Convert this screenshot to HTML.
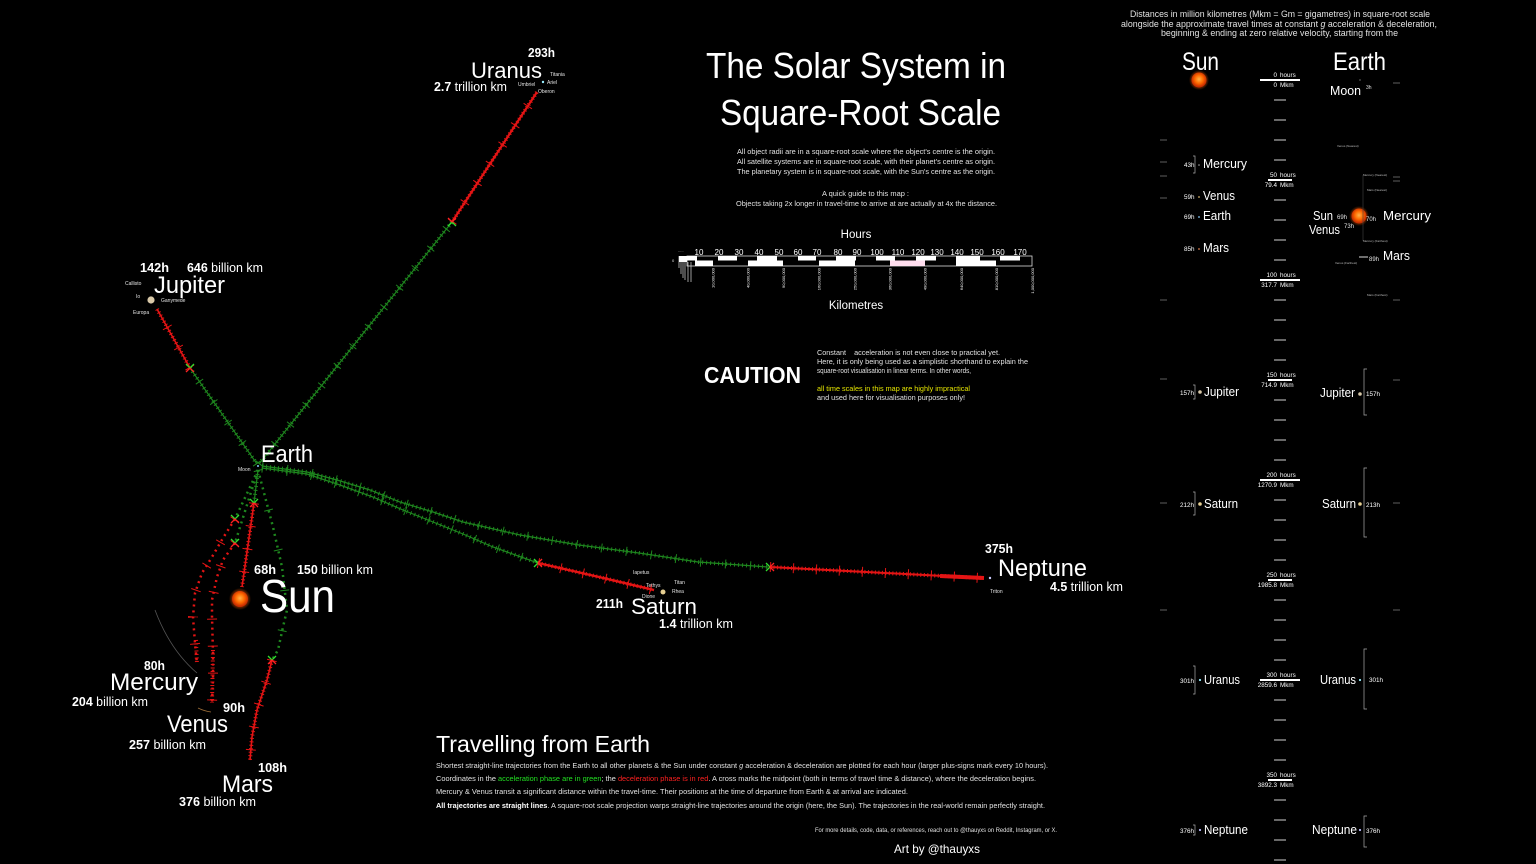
<!DOCTYPE html>
<html><head><meta charset="utf-8">
<style>
html,body{margin:0;padding:0;background:#000;}
svg{display:block;}
text{font-family:"Liberation Sans",sans-serif;fill:#fff;}
.d{fill:#e2e2e2;}
.b{font-weight:bold;}
.g1{stroke:#1e861e;stroke-width:1.2;fill:none;}
.g2{stroke:#1e861e;stroke-width:4;stroke-dasharray:1 3;fill:none;}
.g3{stroke:#1e861e;stroke-width:9;stroke-dasharray:1 24;fill:none;}
.gd{stroke:#1e861e;stroke-width:2.5;stroke-dasharray:2 4;fill:none;}
.r1{stroke:#e41414;stroke-width:1.6;fill:none;}
.r2{stroke:#e41414;stroke-width:4;stroke-dasharray:1 2.5;fill:none;}
.r3{stroke:#e41414;stroke-width:10;stroke-dasharray:1 22;fill:none;}
.rd{stroke:#e41414;stroke-width:2.5;stroke-dasharray:2 4;fill:none;}
.xg{stroke:#2ee02e;stroke-width:1.3;fill:none;}
.xr{stroke:#ff2222;stroke-width:1.3;fill:none;}
.t{stroke:#cfcfcf;stroke-width:1;}
.tl{stroke:#fff;stroke-width:2;}
.br{stroke:#aaa;stroke-width:0.7;fill:none;}
.tiny{font-size:3px;fill:#bbb;}
</style></head><body>
<svg width="1536" height="864" viewBox="0 0 1536 864" xmlns="http://www.w3.org/2000/svg">
<defs>
<radialGradient id="sun" cx="50%" cy="45%" r="50%">
<stop offset="0" stop-color="#ffb347"/>
<stop offset="0.55" stop-color="#ff6a00"/>
<stop offset="1" stop-color="#c82c00"/>
</radialGradient>
<radialGradient id="glow" cx="50%" cy="50%" r="50%">
<stop offset="0.6" stop-color="#ff5a00" stop-opacity="0.6"/>
<stop offset="1" stop-color="#ff5a00" stop-opacity="0"/>
</radialGradient>
</defs>
<rect width="1536" height="864" fill="#000"/>

<!-- ================= TRAJECTORIES ================= -->
<!-- Jupiter -->
<path class="g1" d="M257,464 L190,368"/><path class="g2" d="M257,464 L190,368"/><path class="g3" d="M257,464 L190,368"/>
<path class="r1" d="M190,368 L157,309"/><path class="r2" d="M190,368 L157,309"/><path class="r3" d="M190,368 L157,309"/>
<!-- Uranus -->
<path class="g1" d="M259,464 L452,222"/><path class="g2" d="M259,464 L452,222"/><path class="g3" d="M259,464 L452,222"/>
<path class="r1" d="M452,222 L537,92" style="stroke-width:2.2"/><path class="r2" d="M452,222 L537,92"/><path class="r3" d="M452,222 L537,92"/>
<!-- Saturn -->
<path class="g1" d="M262,468 L307,474 L340,485 L373,497 L403,510 L433,522 L463,534 L493,547 L538,563"/>
<path class="g2" d="M262,468 L307,474 L340,485 L373,497 L403,510 L433,522 L463,534 L493,547 L538,563"/>
<path class="g3" d="M262,468 L307,474 L340,485 L373,497 L403,510 L433,522 L463,534 L493,547 L538,563"/>
<path class="r1" d="M538,563 L599,577 L654,590" style="stroke-width:2.4"/><path class="r2" d="M538,563 L599,577 L654,590"/><path class="r3" d="M538,563 L599,577 L654,590"/>
<!-- Neptune -->
<path class="g1" d="M262,466 L307,472 L337,480 L370,490 L400,502 L433,512 L463,522 L520,535 L579,545 L639,553 L698,562 L768,567"/>
<path class="g2" d="M262,466 L307,472 L337,480 L370,490 L400,502 L433,512 L463,522 L520,535 L579,545 L639,553 L698,562 L768,567"/>
<path class="g3" d="M262,466 L307,472 L337,480 L370,490 L400,502 L433,512 L463,522 L520,535 L579,545 L639,553 L698,562 L768,567"/>
<path class="r1" d="M770,567 L982,578" style="stroke-width:2"/><path class="r2" d="M770,567 L982,578"/><path class="r3" d="M770,567 L982,578"/>
<path d="M940,576 L984,578" stroke="#e41414" stroke-width="4" fill="none"/>
<!-- Sun -->
<path class="g1" d="M258,470 L254,503"/><path class="g2" d="M258,470 L254,503"/>
<path class="r1" d="M254,503 L242,587"/><path class="r2" d="M254,503 L242,587"/><path class="r3" d="M254,503 L242,587"/>
<!-- Mercury -->
<path class="gd" d="M258,470 L235,519"/>
<path class="rd" d="M235,519 L223,538 L212,557 L202,573 L195,593 L193,617 L195,643 L197,664"/>
<path class="r3" d="M235,519 L223,538 L212,557 L202,573 L195,593 L193,617 L195,643 L197,664" style="stroke-dasharray:1 26"/>
<path class="r2" d="M196,640 L197,664"/>
<!-- Venus -->
<path class="gd" d="M258,470 L235,543"/>
<path class="rd" d="M235,543 L223,560 L217,577 L212,600 L212,617 L213,653 L213,677 L212,703"/>
<path class="r3" d="M235,543 L223,560 L217,577 L212,600 L212,617 L213,653 L213,677 L212,703" style="stroke-dasharray:1 26"/>
<path class="r2" d="M213,650 L212,703"/>
<!-- Mars -->
<path class="gd" d="M258,470 L273,527 L282,567 L287,610 L283,627 L278,650 L272,660"/>
<path class="g3" d="M258,470 L273,527 L282,567 L287,610 L283,627 L278,650 L272,660" style="stroke-dasharray:1 40"/>
<path class="r1" d="M272,660 L267,680 L257,710 L252,737 L250,760"/><path class="r2" d="M272,660 L267,680 L257,710 L252,737 L250,760"/><path class="r3" d="M272,660 L267,680 L257,710 L252,737 L250,760"/>

<!-- midpoint crosses -->
<g>
<path class="xg" d="M186,364 L190,368 L194,364"/><path class="xr" d="M186,372 L190,368 L194,372"/>
<path class="xg" d="M448,226 L452,222 L456,226"/><path class="xr" d="M448,218 L452,222 L456,218"/>
<path class="xg" d="M534,559 L538,563 L534,567"/><path class="xr" d="M542,559 L538,563 L542,567"/>
<path class="xg" d="M766,563 L770,567 L766,571"/><path class="xr" d="M774,563 L770,567 L774,571"/>
<path class="xg" d="M250,499 L254,503 L258,499"/><path class="xr" d="M250,507 L254,503 L258,507"/>
<path class="xg" d="M231,515 L235,519 L239,515"/><path class="xr" d="M231,523 L235,519 L239,523"/>
<path class="xg" d="M231,539 L235,543 L239,539"/><path class="xr" d="M231,547 L235,543 L239,547"/>
<path class="xg" d="M268,656 L272,660 L276,656"/><path class="xr" d="M268,664 L272,660 L276,664"/>
</g>

<!-- faint orbit arcs -->
<path d="M155,610 Q170,650 197,673" stroke="#555" stroke-width="0.8" fill="none"/>
<path d="M198,708 Q204,711 211,712" stroke="#a0703a" stroke-width="0.8" fill="none"/>

<!-- ================= MAP OBJECTS & LABELS ================= -->
<!-- Earth -->
<circle cx="258" cy="466" r="1" fill="#8cf"/>
<text x="261" y="462" font-size="24" textLength="52" lengthAdjust="spacingAndGlyphs">Earth</text>
<text x="238" y="471" font-size="5" class="d">Moon</text>
<!-- Jupiter -->
<circle cx="151" cy="300" r="3.6" fill="#d8c8a8"/>
<text x="140" y="272" font-size="12.5" class="b" textLength="29" lengthAdjust="spacingAndGlyphs">142h</text>
<text x="187" y="272" font-size="12.5" textLength="76" lengthAdjust="spacingAndGlyphs"><tspan class="b">646</tspan> billion km</text>
<text x="154" y="293" font-size="24" textLength="71" lengthAdjust="spacingAndGlyphs">Jupiter</text>
<text x="125" y="285" font-size="5" class="d">Callisto</text>
<text x="136" y="298" font-size="5" class="d">Io</text>
<text x="161" y="302" font-size="5" class="d">Ganymede</text>
<text x="133" y="314" font-size="5" class="d">Europa</text>
<!-- Uranus -->
<circle cx="543" cy="82" r="1.2" fill="#9ef"/>
<text x="528" y="57" font-size="12.5" class="b" textLength="27" lengthAdjust="spacingAndGlyphs">293h</text>
<text x="471" y="78" font-size="22" textLength="71" lengthAdjust="spacingAndGlyphs">Uranus</text>
<text x="434" y="91" font-size="12.5" textLength="73" lengthAdjust="spacingAndGlyphs"><tspan class="b">2.7</tspan> trillion km</text>
<text x="550" y="76" font-size="5" class="d">Titania</text>
<text x="518" y="86" font-size="5" class="d">Umbriel</text>
<text x="547" y="84" font-size="5" class="d">Ariel</text>
<text x="538" y="93" font-size="5" class="d">Oberon</text>
<!-- Sun -->
<circle cx="240" cy="599" r="11" fill="url(#glow)"/>
<circle cx="240" cy="599" r="8" fill="url(#sun)"/>
<text x="254" y="574" font-size="12.5" class="b" textLength="22" lengthAdjust="spacingAndGlyphs">68h</text>
<text x="297" y="574" font-size="12.5" textLength="76" lengthAdjust="spacingAndGlyphs"><tspan class="b">150</tspan> billion km</text>
<text x="260" y="612" font-size="46" textLength="75" lengthAdjust="spacingAndGlyphs">Sun</text>
<!-- Mercury -->
<text x="144" y="670" font-size="12.5" class="b" textLength="21" lengthAdjust="spacingAndGlyphs">80h</text>
<text x="110" y="690" font-size="24" textLength="88" lengthAdjust="spacingAndGlyphs">Mercury</text>
<text x="72" y="706" font-size="12.5" textLength="76" lengthAdjust="spacingAndGlyphs"><tspan class="b">204</tspan> billion km</text>
<!-- Venus -->
<text x="223" y="712" font-size="12.5" class="b" textLength="22" lengthAdjust="spacingAndGlyphs">90h</text>
<text x="167" y="732" font-size="24" textLength="61" lengthAdjust="spacingAndGlyphs">Venus</text>
<text x="129" y="749" font-size="12.5" textLength="77" lengthAdjust="spacingAndGlyphs"><tspan class="b">257</tspan> billion km</text>
<!-- Mars -->
<text x="258" y="772" font-size="12.5" class="b" textLength="29" lengthAdjust="spacingAndGlyphs">108h</text>
<text x="222" y="792" font-size="24" textLength="51" lengthAdjust="spacingAndGlyphs">Mars</text>
<text x="179" y="806" font-size="12.5" textLength="77" lengthAdjust="spacingAndGlyphs"><tspan class="b">376</tspan> billion km</text>
<!-- Saturn -->
<circle cx="663" cy="592" r="2.5" fill="#e6cf92"/>
<text x="596" y="608" font-size="12.5" class="b" textLength="27" lengthAdjust="spacingAndGlyphs">211h</text>
<text x="631" y="614" font-size="22" textLength="66" lengthAdjust="spacingAndGlyphs">Saturn</text>
<text x="659" y="628" font-size="12.5" textLength="74" lengthAdjust="spacingAndGlyphs"><tspan class="b">1.4</tspan> trillion km</text>
<text x="633" y="574" font-size="5" class="d">Iapetus</text>
<text x="646" y="587" font-size="5" class="d">Tethys</text>
<text x="674" y="584" font-size="5" class="d">Titan</text>
<text x="672" y="593" font-size="5" class="d">Rhea</text>
<text x="642" y="598" font-size="5" class="d">Dione</text>
<!-- Neptune -->
<circle cx="990" cy="578" r="1.2" fill="#ccf"/>
<text x="985" y="553" font-size="12.5" class="b" textLength="28" lengthAdjust="spacingAndGlyphs">375h</text>
<text x="998" y="576" font-size="24" textLength="89" lengthAdjust="spacingAndGlyphs">Neptune</text>
<text x="1050" y="591" font-size="12.5" textLength="73" lengthAdjust="spacingAndGlyphs"><tspan class="b">4.5</tspan> trillion km</text>
<text x="990" y="593" font-size="5" class="d">Triton</text>

<!-- ================= TITLE BLOCK ================= -->
<text x="706" y="78" font-size="36" textLength="300" lengthAdjust="spacingAndGlyphs">The Solar System in</text>
<text x="720" y="125" font-size="36" textLength="281" lengthAdjust="spacingAndGlyphs">Square-Root Scale</text>
<text x="737" y="154" font-size="7.2" class="d" textLength="258" lengthAdjust="spacingAndGlyphs">All object radii are in a square-root scale where the object's centre is the origin.</text>
<text x="737" y="164" font-size="7.2" class="d" textLength="258" lengthAdjust="spacingAndGlyphs">All satellite systems are in square-root scale, with their planet's centre as origin.</text>
<text x="737" y="174" font-size="7.2" class="d" textLength="258" lengthAdjust="spacingAndGlyphs">The planetary system is in square-root scale, with the Sun's centre as the origin.</text>
<text x="822" y="196" font-size="7.2" class="d" textLength="87" lengthAdjust="spacingAndGlyphs">A quick guide to this map :</text>
<text x="736" y="206" font-size="7.2" class="d" textLength="261" lengthAdjust="spacingAndGlyphs">Objects taking 2x longer in travel-time to arrive at are actually at 4x the distance.</text>

<!-- scale bar -->
<text x="856" y="238" font-size="11.5" text-anchor="middle">Hours</text>
<g font-size="8" text-anchor="middle">
<text x="699" y="255">10</text><text x="719" y="255">20</text><text x="739" y="255">30</text><text x="759" y="255">40</text>
<text x="779" y="255">50</text><text x="798" y="255">60</text><text x="817" y="255">70</text><text x="838" y="255">80</text>
<text x="857" y="255">90</text><text x="877" y="255">100</text><text x="898" y="255">110</text><text x="918" y="255">120</text>
<text x="937" y="255">130</text><text x="957" y="255">140</text><text x="977" y="255">150</text><text x="998" y="255">160</text><text x="1020" y="255">170</text>
</g>
<rect x="687" y="256" width="345" height="10" fill="none" stroke="#ddd" stroke-width="0.8"/>
<g fill="#fff">
<rect x="687" y="256" width="10" height="4.5"/><rect x="718" y="256" width="19" height="4.5"/><rect x="757" y="256" width="20" height="4.5"/>
<rect x="798" y="256" width="18" height="4.5"/><rect x="836" y="256" width="20" height="4.5"/><rect x="876" y="256" width="19" height="4.5"/>
<rect x="916" y="256" width="20" height="4.5"/><rect x="956" y="256" width="24" height="4.5"/><rect x="1000" y="256" width="20" height="4.5"/>
<rect x="695" y="260.5" width="18" height="5.5"/><rect x="748" y="260.5" width="35" height="5.5"/><rect x="819" y="260.5" width="36" height="5.5"/>
<rect x="890" y="260.5" width="35" height="5.5" fill="#fde"/><rect x="956" y="260.5" width="40" height="5.5"/>
</g>
<g stroke="#ddd" stroke-width="0.7">
<line x1="679" y1="256" x2="679" y2="268"/><line x1="681" y1="256" x2="681" y2="274"/><line x1="683" y1="256" x2="683" y2="278"/>
<line x1="685" y1="258" x2="685" y2="280"/><line x1="688" y1="262" x2="688" y2="282"/><line x1="691" y1="262" x2="691" y2="282"/>
</g>
<rect x="679" y="256" width="8" height="6" fill="#fff"/>
<text x="672" y="262" font-size="4" class="d">0</text>
<text x="678" y="252" font-size="4" class="d">.....</text>
<g font-size="4" fill="#ccc" text-anchor="end">
<text transform="translate(714.5,268) rotate(-90)">10,000,000</text>
<text transform="translate(749.5,268) rotate(-90)">40,000,000</text>
<text transform="translate(785,268) rotate(-90)">90,000,000</text>
<text transform="translate(820.5,268) rotate(-90)">160,000,000</text>
<text transform="translate(856.5,268) rotate(-90)">250,000,000</text>
<text transform="translate(891.5,268) rotate(-90)">360,000,000</text>
<text transform="translate(926.5,268) rotate(-90)">490,000,000</text>
<text transform="translate(963,268) rotate(-90)">640,000,000</text>
<text transform="translate(998,268) rotate(-90)">810,000,000</text>
<text transform="translate(1034,268) rotate(-90)">1,000,000,000</text>
</g>
<text x="856" y="309" font-size="11.5" text-anchor="middle">Kilometres</text>

<!-- caution -->
<text x="704" y="383" font-size="23" class="b" textLength="97" lengthAdjust="spacingAndGlyphs">CAUTION</text>
<text x="817" y="355" font-size="7.2" class="d" textLength="183" lengthAdjust="spacingAndGlyphs">Constant&#160;&#160;&#160;&#160;acceleration is not even close to practical yet.</text>
<text x="817" y="364" font-size="7.2" class="d" textLength="211" lengthAdjust="spacingAndGlyphs">Here, it is only being used as a simplistic shorthand to explain the</text>
<text x="817" y="373" font-size="7.2" class="d" textLength="154" lengthAdjust="spacingAndGlyphs">square-root visualisation in linear terms. In other words,</text>
<text x="817" y="391" font-size="7.2" style="fill:#e6e600" textLength="153" lengthAdjust="spacingAndGlyphs">all time scales in this map are highly impractical</text>
<text x="817" y="400" font-size="7.2" class="d" textLength="148" lengthAdjust="spacingAndGlyphs">and used here for visualisation purposes only!</text>

<!-- bottom paragraph -->
<text x="436" y="752" font-size="23" textLength="214" lengthAdjust="spacingAndGlyphs">Travelling from Earth</text>
<text x="436" y="768" font-size="7" class="d" textLength="612" lengthAdjust="spacingAndGlyphs">Shortest straight-line trajectories from the Earth to all other planets &amp; the Sun under constant <tspan font-style="italic">g</tspan> acceleration &amp; deceleration are plotted for each hour (larger plus-signs mark every 10 hours).</text>
<text x="436" y="781" font-size="7" class="d" textLength="600" lengthAdjust="spacingAndGlyphs">Coordinates in the <tspan style="fill:#22e022">acceleration phase are in green</tspan>; the <tspan style="fill:#ff2020">deceleration phase is in red</tspan>. A cross marks the midpoint (both in terms of travel time &amp; distance), where the deceleration begins.</text>
<text x="436" y="794" font-size="7" class="d" textLength="472" lengthAdjust="spacingAndGlyphs">Mercury &amp; Venus transit a significant distance within the travel-time. Their positions at the time of departure from Earth &amp; at arrival are indicated.</text>
<text x="436" y="808" font-size="7" class="d" textLength="609" lengthAdjust="spacingAndGlyphs"><tspan class="b" style="fill:#fff">All trajectories are straight lines</tspan>. A square-root scale projection warps straight-line trajectories around the origin (here, the Sun). The trajectories in the real-world remain perfectly straight.</text>
<text x="815" y="832" font-size="6" class="d" textLength="242" lengthAdjust="spacingAndGlyphs">For more details, code, data, or references, reach out to @thauyxs on Reddit, Instagram, or X.</text>
<text x="894" y="853" font-size="12" textLength="86" lengthAdjust="spacingAndGlyphs">Art by @thauyxs</text>

<!-- ================= RIGHT PANEL ================= -->
<text x="1130" y="17" font-size="9.5" class="d" textLength="300" lengthAdjust="spacingAndGlyphs">Distances in million kilometres (Mkm = Gm = gigametres) in square-root scale</text>
<text x="1121" y="27" font-size="9.5" class="d" textLength="316" lengthAdjust="spacingAndGlyphs">alongside the approximate travel times at constant <tspan font-style="italic">g</tspan> acceleration &amp; deceleration,</text>
<text x="1161" y="36" font-size="9.5" class="d" textLength="237" lengthAdjust="spacingAndGlyphs">beginning &amp; ending at zero relative velocity, starting from the</text>

<text x="1182" y="70" font-size="25" textLength="37" lengthAdjust="spacingAndGlyphs">Sun</text>
<text x="1333" y="70" font-size="25" textLength="53" lengthAdjust="spacingAndGlyphs">Earth</text>
<circle cx="1199" cy="80" r="10" fill="url(#glow)"/>
<circle cx="1199" cy="80" r="7.5" fill="url(#sun)"/>

<!-- center axis minor ticks -->
<g class="t">
<line x1="1274" y1="100" x2="1286" y2="100"/><line x1="1274" y1="120" x2="1286" y2="120"/><line x1="1274" y1="140" x2="1286" y2="140"/><line x1="1274" y1="160" x2="1286" y2="160"/>
<line x1="1274" y1="200" x2="1286" y2="200"/><line x1="1274" y1="220" x2="1286" y2="220"/><line x1="1274" y1="240" x2="1286" y2="240"/><line x1="1274" y1="260" x2="1286" y2="260"/>
<line x1="1274" y1="300" x2="1286" y2="300"/><line x1="1274" y1="320" x2="1286" y2="320"/><line x1="1274" y1="340" x2="1286" y2="340"/><line x1="1274" y1="360" x2="1286" y2="360"/>
<line x1="1274" y1="400" x2="1286" y2="400"/><line x1="1274" y1="420" x2="1286" y2="420"/><line x1="1274" y1="440" x2="1286" y2="440"/><line x1="1274" y1="460" x2="1286" y2="460"/>
<line x1="1274" y1="500" x2="1286" y2="500"/><line x1="1274" y1="520" x2="1286" y2="520"/><line x1="1274" y1="540" x2="1286" y2="540"/><line x1="1274" y1="560" x2="1286" y2="560"/>
<line x1="1274" y1="600" x2="1286" y2="600"/><line x1="1274" y1="620" x2="1286" y2="620"/><line x1="1274" y1="640" x2="1286" y2="640"/><line x1="1274" y1="660" x2="1286" y2="660"/>
<line x1="1274" y1="700" x2="1286" y2="700"/><line x1="1274" y1="720" x2="1286" y2="720"/><line x1="1274" y1="740" x2="1286" y2="740"/><line x1="1274" y1="760" x2="1286" y2="760"/>
<line x1="1274" y1="800" x2="1286" y2="800"/><line x1="1274" y1="820" x2="1286" y2="820"/><line x1="1274" y1="840" x2="1286" y2="840"/><line x1="1274" y1="860" x2="1286" y2="860"/>
</g>
<!-- major ticks -->
<g class="tl">
<line x1="1260" y1="80" x2="1300" y2="80"/>
<line x1="1268" y1="180" x2="1292" y2="180"/>
<line x1="1260" y1="280" x2="1300" y2="280"/>
<line x1="1268" y1="380" x2="1292" y2="380"/>
<line x1="1260" y1="480" x2="1300" y2="480"/>
<line x1="1268" y1="580" x2="1292" y2="580"/>
<line x1="1260" y1="680" x2="1300" y2="680"/>
<line x1="1268" y1="780" x2="1292" y2="780"/>
</g>
<g font-size="6.3" class="d">
<text x="1277" y="77" text-anchor="end">0</text><text x="1280" y="77">hours</text>
<text x="1277" y="87" text-anchor="end">0</text><text x="1280" y="87">Mkm</text>
<text x="1277" y="177" text-anchor="end">50</text><text x="1280" y="177">hours</text>
<text x="1277" y="187" text-anchor="end">79.4</text><text x="1280" y="187">Mkm</text>
<text x="1277" y="277" text-anchor="end">100</text><text x="1280" y="277">hours</text>
<text x="1277" y="287" text-anchor="end">317.7</text><text x="1280" y="287">Mkm</text>
<text x="1277" y="377" text-anchor="end">150</text><text x="1280" y="377">hours</text>
<text x="1277" y="387" text-anchor="end">714.9</text><text x="1280" y="387">Mkm</text>
<text x="1277" y="477" text-anchor="end">200</text><text x="1280" y="477">hours</text>
<text x="1277" y="487" text-anchor="end">1270.9</text><text x="1280" y="487">Mkm</text>
<text x="1277" y="577" text-anchor="end">250</text><text x="1280" y="577">hours</text>
<text x="1277" y="587" text-anchor="end">1985.8</text><text x="1280" y="587">Mkm</text>
<text x="1277" y="677" text-anchor="end">300</text><text x="1280" y="677">hours</text>
<text x="1277" y="687" text-anchor="end">2859.6</text><text x="1280" y="687">Mkm</text>
<text x="1277" y="777" text-anchor="end">350</text><text x="1280" y="777">hours</text>
<text x="1277" y="787" text-anchor="end">3892.3</text><text x="1280" y="787">Mkm</text>
</g>

<!-- far edge dashes -->
<g stroke="#777" stroke-width="0.8">
<line x1="1160" y1="140" x2="1167" y2="140"/><line x1="1160" y1="162" x2="1167" y2="162"/><line x1="1160" y1="176" x2="1167" y2="176"/>
<line x1="1160" y1="198" x2="1167" y2="198"/><line x1="1160" y1="300" x2="1167" y2="300"/><line x1="1160" y1="379" x2="1167" y2="379"/>
<line x1="1160" y1="503" x2="1167" y2="503"/><line x1="1160" y1="610" x2="1167" y2="610"/>
<line x1="1393" y1="83" x2="1400" y2="83"/><line x1="1393" y1="177" x2="1400" y2="177"/><line x1="1393" y1="181" x2="1400" y2="181"/>
<line x1="1393" y1="300" x2="1400" y2="300"/><line x1="1393" y1="380" x2="1400" y2="380"/><line x1="1393" y1="503" x2="1400" y2="503"/>
<line x1="1393" y1="610" x2="1400" y2="610"/>
</g>

<!-- left column (from Sun) -->
<g font-size="6.3" class="d">
<text x="1184" y="167">43h</text><text x="1184" y="199">59h</text><text x="1184" y="219">69h</text><text x="1184" y="251">85h</text>
<text x="1180" y="395">157h</text><text x="1180" y="507">212h</text><text x="1180" y="683">301h</text><text x="1180" y="833">376h</text>
</g>
<g font-size="12.5">
<text x="1203" y="168" textLength="44" lengthAdjust="spacingAndGlyphs">Mercury</text>
<text x="1203" y="200" textLength="32" lengthAdjust="spacingAndGlyphs">Venus</text>
<text x="1203" y="220" textLength="28" lengthAdjust="spacingAndGlyphs">Earth</text>
<text x="1203" y="252" textLength="26" lengthAdjust="spacingAndGlyphs">Mars</text>
<text x="1204" y="396" textLength="35" lengthAdjust="spacingAndGlyphs">Jupiter</text>
<text x="1204" y="508" textLength="34" lengthAdjust="spacingAndGlyphs">Saturn</text>
<text x="1204" y="684" textLength="36" lengthAdjust="spacingAndGlyphs">Uranus</text>
<text x="1204" y="834" textLength="44" lengthAdjust="spacingAndGlyphs">Neptune</text>
</g>
<circle cx="1199" cy="165" r="0.8" fill="#aaa"/><circle cx="1199" cy="197" r="0.9" fill="#d9b36a"/>
<circle cx="1199" cy="217" r="0.9" fill="#8cf"/><circle cx="1199" cy="249" r="0.9" fill="#e08050"/>
<circle cx="1200" cy="392" r="1.8" fill="#d8c8a8"/><circle cx="1200" cy="504" r="1.8" fill="#e6cf92"/>
<circle cx="1200" cy="680" r="1.1" fill="#9ef"/><circle cx="1200" cy="830" r="1.1" fill="#bbf"/>
<g class="br">
<path d="M1193,156 L1195,156 L1195,173 L1193,173"/>
<path d="M1193,385 L1195,385 L1195,399 L1193,399"/>
<path d="M1193,492 L1195,492 L1195,515 L1193,515"/>
<path d="M1193,666 L1195,666 L1195,694 L1193,694"/>
<path d="M1193,825 L1195,825 L1195,835 L1193,835"/>
</g>

<!-- right column (from Earth) -->
<text x="1330" y="95" font-size="12.5" textLength="31" lengthAdjust="spacingAndGlyphs">Moon</text>
<text x="1366" y="89" font-size="5" class="d">3h</text>
<circle cx="1360" cy="80" r="0.6" fill="#aaa"/>
<text x="1313" y="220" font-size="12.5" textLength="20" lengthAdjust="spacingAndGlyphs">Sun</text>
<text x="1337" y="219" font-size="6" class="d">69h</text>
<circle cx="1359" cy="216" r="10" fill="url(#glow)"/>
<circle cx="1359" cy="216" r="7.5" fill="url(#sun)"/>
<text x="1366" y="221" font-size="6" class="d">70h</text>
<text x="1383" y="220" font-size="12.5" textLength="48" lengthAdjust="spacingAndGlyphs">Mercury</text>
<text x="1309" y="234" font-size="12.5" textLength="31" lengthAdjust="spacingAndGlyphs">Venus</text>
<text x="1344" y="228" font-size="6" class="d">73h</text>
<line x1="1359" y1="257" x2="1368" y2="257" stroke="#ddd" stroke-width="1"/>
<text x="1369" y="261" font-size="6" class="d">89h</text>
<text x="1383" y="260" font-size="12.5" textLength="27" lengthAdjust="spacingAndGlyphs">Mars</text>
<line x1="1363" y1="175" x2="1363" y2="241" stroke="#444" stroke-width="0.6"/>
<text x="1337" y="147" class="tiny">Venus (Nearest)</text>
<text x="1363" y="176" class="tiny">Mercury (Nearest)</text>
<text x="1367" y="191" class="tiny">Mars (Nearest)</text>
<text x="1363" y="242" class="tiny">Mercury (Farthest)</text>
<text x="1335" y="264" class="tiny">Venus (Farthest)</text>
<text x="1367" y="296" class="tiny">Mars (Farthest)</text>

<g font-size="12.5">
<text x="1320" y="397" textLength="35" lengthAdjust="spacingAndGlyphs">Jupiter</text>
<text x="1322" y="508" textLength="34" lengthAdjust="spacingAndGlyphs">Saturn</text>
<text x="1320" y="684" textLength="36" lengthAdjust="spacingAndGlyphs">Uranus</text>
<text x="1312" y="834" textLength="45" lengthAdjust="spacingAndGlyphs">Neptune</text>
</g>
<circle cx="1360" cy="394" r="1.8" fill="#d8c8a8"/><circle cx="1360" cy="504" r="1.8" fill="#e6cf92"/>
<circle cx="1360" cy="680" r="1.1" fill="#9ef"/><circle cx="1360" cy="830" r="1.1" fill="#bbf"/>
<g font-size="6.3" class="d">
<text x="1366" y="396">157h</text><text x="1366" y="507">213h</text><text x="1369" y="682">301h</text><text x="1366" y="833">376h</text>
</g>
<g class="br">
<path d="M1367,369 L1364,369 L1364,415 L1367,415"/>
<path d="M1367,468 L1364,468 L1364,537 L1367,537"/>
<path d="M1367,649 L1364,649 L1364,709 L1367,709"/>
<path d="M1367,816 L1364,816 L1364,847 L1367,847"/>
</g>
</svg>
</body></html>
